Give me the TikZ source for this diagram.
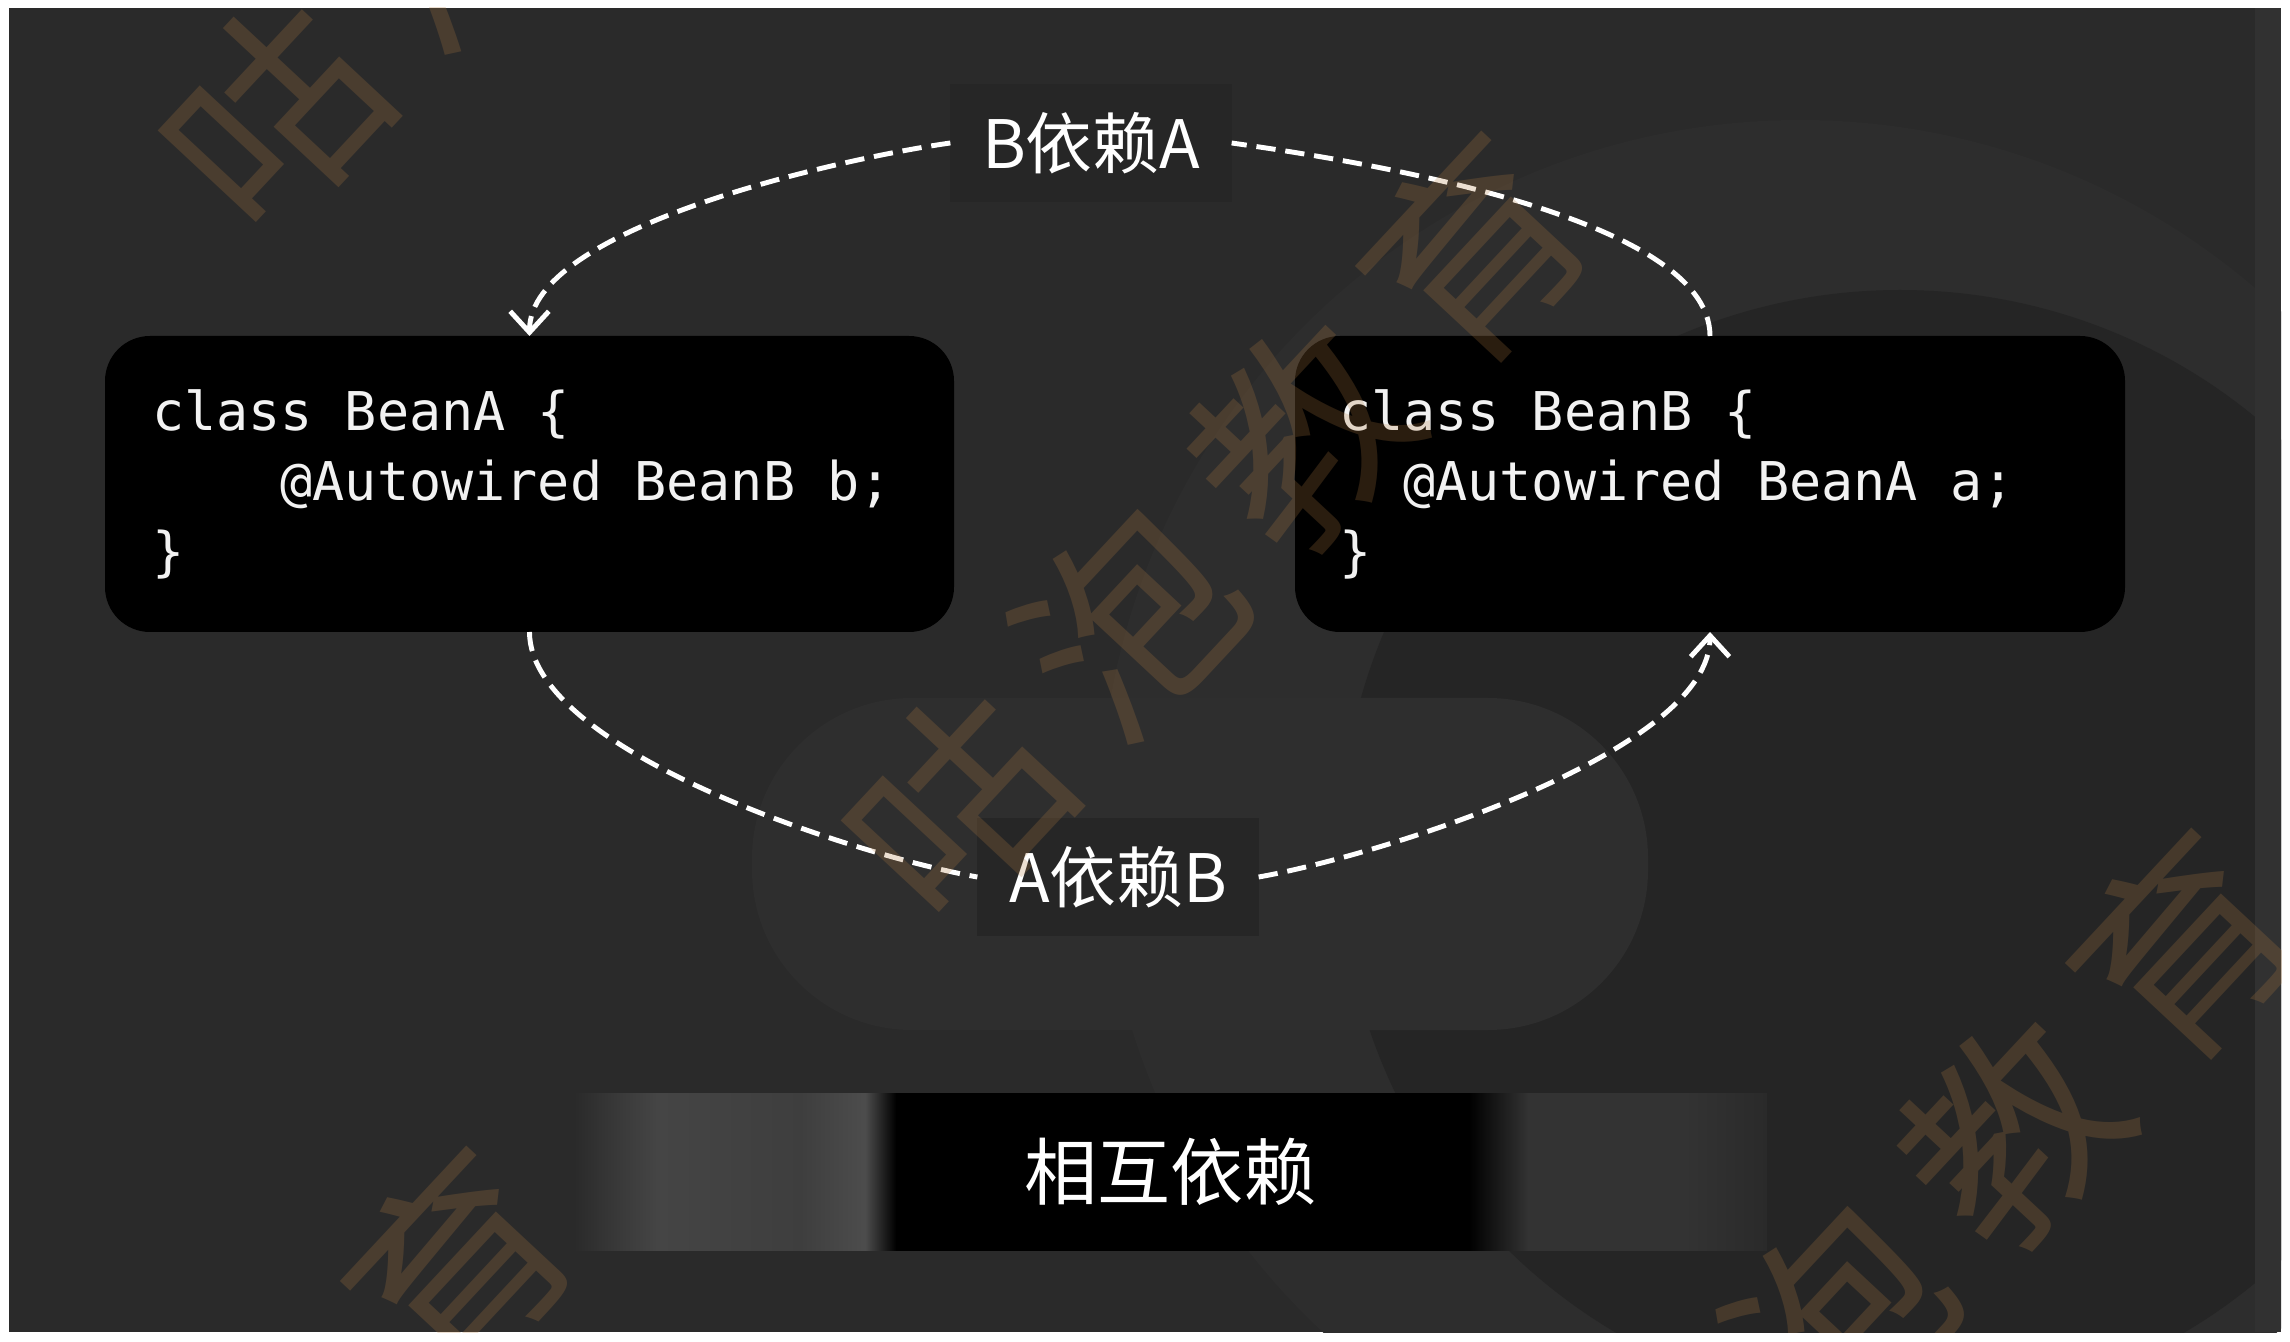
\documentclass[tikz,border=0pt]{standalone}
\usepackage{fontspec}
\usepackage{tikz}
\usetikzlibrary{arrows.meta,positioning}
\setmonofont{DejaVu Sans Mono}
\newfontfamily\cjkfont{Noto Sans CJK SC}
\definecolor{pagebg}{HTML}{2A2A2A}
\definecolor{lblbg}{HTML}{262626}
\definecolor{ringlt}{HTML}{2D2D2D}
\definecolor{ringdk}{HTML}{252525}
\definecolor{midlt}{HTML}{2E2E2E}
\definecolor{edgelt}{HTML}{313131}
\definecolor{wmbrown}{HTML}{B07A40}
\definecolor{codewhite}{HTML}{F2F2F2}
\definecolor{bangrayl}{HTML}{454545}
\definecolor{bangrayr}{HTML}{333333}
\pgfdeclarehorizontalshading{bannershade}{100bp}{color(0bp)=(pagebg); color(25bp)=(pagebg);
  color(27bp)=(bangrayl!60!pagebg); color(28.5bp)=(bangrayl); color(34.5bp)=(bangrayl!90!black);
  color(37.2bp)=(black!70); color(38.5bp)=(black); color(62.5bp)=(black); color(65bp)=(black!80);
  color(68.5bp)=(bangrayr); color(71.5bp)=(bangrayr); color(75bp)=(pagebg); color(100bp)=(pagebg)}

\tikzset{
  codebox/.style={fill=black, rounded corners=0.45cm, minimum height=2.96cm, align=left,
    text=codewhite, font=\ttfamily\fontsize{15.2}{19.9}\selectfont, inner ysep=0pt, outer sep=0pt},
  deplabel/.style={fill=lblbg, text=white, font=\cjkfont\fontsize{19}{19}\selectfont,
    inner xsep=9pt, inner ysep=8pt, outer sep=0pt},
  dep/.style={draw=white, line width=1.4pt, dash pattern=on 5.5pt off 2.8pt},
  deptip/.style={-{Straight Barb[length=6pt,width=11pt]}},
  banner/.style={shading=bannershade, minimum width=11.93cm, minimum height=1.57cm,
    text=white, font=\cjkfont\fontsize{20.8}{20.8}\selectfont, inner sep=0pt},
  wmark/.style={text=wmbrown, opacity=0.24, rotate=47, inner sep=0pt,
    font=\cjkfont\fontsize{60}{60}\selectfont}
}
\newcommand\csp{\phantom{x}}
\newcommand\wmtext{咕\hspace{12pt}泡\hspace{12pt}教\hspace{12pt}育}

\begin{document}
\begin{tikzpicture}[x=0.1mm,y=-0.1mm]
  \useasboundingbox (0,0) rectangle (2290,1342);
  \fill[white] (0,0) rectangle (2290,1342);
  \fill[pagebg] (9,8) rectangle (2281,1332);
  % faint logo behind
  \begin{scope}
    \clip (9,8) rectangle (2281,1332);
    \fill[ringlt] (1800,820) circle[radius=7cm];
    \fill[ringdk] (1900,850) circle[radius=5.6cm];
    \fill[midlt, rounded corners=1.6cm] (752,698) rectangle (1648,1030);
    \fill[edgelt] (2255,8) rectangle (2281,1332);
  \end{scope}

  % title bar
  \node[banner] (title) at (1170.5,1171.5) {相互依赖};

  % the two classes
  \node[codebox, inner xsep=0.47cm, text width=7.55cm] (boxA) at (529.5,484)
    {class\csp BeanA\csp\{\\\csp\csp\csp\csp @Autowired\csp BeanB\csp b;\\\}};
  \node[codebox, inner xsep=0.44cm, text width=7.42cm] (boxB) at (1710,484)
    {class\csp BeanB\csp\{\\\csp\csp @Autowired\csp BeanA\csp a;\\\}};

  \node[deplabel] (lblBA) at (1091,143) {B依赖A};
  \node[deplabel] (lblAB) at (1118,877) {A依赖B};

  \draw[dep] (boxB.north) to[out=90,in=-8,looseness=0.6] (lblBA.east);
  \draw[dep,deptip] (lblBA.west) to[out=188,in=90,looseness=0.6] (boxA.north);
  \draw[dep] (boxA.south) to[out=-90,in=170,looseness=0.6] (lblAB.west);
  \draw[dep,deptip] (lblAB.east) to[out=10,in=-90,looseness=0.6] (boxB.south);

  % watermark
  \begin{scope}
    \clip (9,8) rectangle (2281,1332);
    \node[wmark] (wmA) at (532,-162) {\wmtext};
    \node[wmark] (wmB) at (1215,528) {\wmtext};
    \node[wmark] (wmC) at (200,1543) {\wmtext};
    \node[wmark] (wmD) at (1925,1225) {\wmtext};
  \end{scope}
\end{tikzpicture}
\end{document}
